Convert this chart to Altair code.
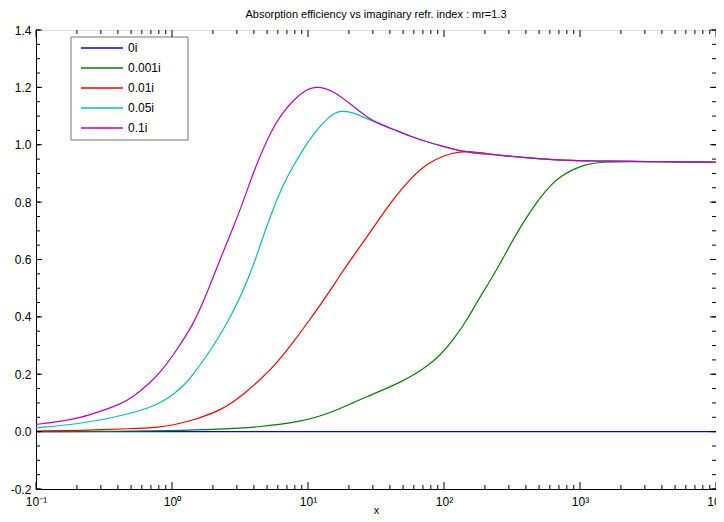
import altair as alt
import pandas as pd

# ---- data ----
series_names = ["0i", "0.001i", "0.01i", "0.05i", "0.1i"]
series_colors = ["#0000ff", "#008000", "#ff0000", "#00bfbf", "#bf00bf"]

x_0i = [0.1, 1, 10, 100, 1000, 10000]
y_0i = [0.0, 0.0, 0.0, 0.0, 0.0, 0.0]

x_0001i = [0.1, 0.296, 1.0, 2.25, 4.44, 8.73, 12.2, 17.2, 21.4, 27.2, 33.8, 47.4, 61.2, 75, 93.5,
           117, 148, 174, 218, 258, 306, 362, 429, 508, 601, 713, 889, 1125, 1403, 2218, 5433, 10000]
y_0001i = [0.0, 0.0005, 0.003, 0.008, 0.016, 0.035, 0.053, 0.08, 0.101, 0.122, 0.141, 0.171, 0.20, 0.228, 0.265,
           0.32, 0.39, 0.45, 0.525, 0.585, 0.65, 0.71, 0.765, 0.815, 0.857, 0.888, 0.915, 0.932, 0.94, 0.942, 0.94, 0.939]

x_001i = [0.1, 0.211, 0.516, 0.817, 1.0, 1.43, 1.75, 2.25, 2.76, 3.44, 4.44, 5.92, 7.76, 10.3, 13.8, 17.2,
          21.4, 27.2, 33.8, 42.2, 56.2, 75, 102, 131, 161, 200, 306, 467, 713, 1403, 2218, 5433, 10000]
y_001i = [0.002, 0.004, 0.010, 0.016, 0.022, 0.04, 0.055, 0.075, 0.10, 0.135, 0.18, 0.24, 0.31, 0.39, 0.475, 0.545,
          0.61, 0.68, 0.745, 0.81, 0.88, 0.935, 0.965, 0.976, 0.977, 0.97, 0.96, 0.952, 0.946, 0.943, 0.942, 0.94, 0.939]

x_005i = [0.1, 0.211, 0.296, 0.516, 0.689, 0.817, 1.0, 1.25, 1.43, 1.75, 2.25, 2.76, 3.33, 3.95, 4.67, 5.53,
          6.55, 7.76, 9.5, 11.5, 13.8, 15.5, 17.8, 22.2, 27.2, 33.8, 42.2, 56.2, 75, 102, 131, 200, 306, 467, 713,
          1403, 2218, 5433, 10000]
y_005i = [0.013, 0.028, 0.040, 0.065, 0.085, 0.10, 0.125, 0.165, 0.20, 0.255, 0.335, 0.41, 0.49, 0.576, 0.68, 0.775,
          0.86, 0.925, 0.995, 1.05, 1.09, 1.11, 1.12, 1.11, 1.09, 1.072, 1.054, 1.03, 1.01, 0.993, 0.978, 0.967, 0.96,
          0.952, 0.946, 0.943, 0.942, 0.94, 0.939]

x_01i = [0.1, 0.150, 0.211, 0.296, 0.415, 0.516, 0.689, 0.817, 1.0, 1.25, 1.43, 1.75, 2.25, 2.76, 3.33, 3.87,
         4.44, 5.26, 6.22, 7.76, 9.5, 11.5, 15.3, 21.4, 27.2, 33.8, 42.2, 56.2, 75, 102, 131, 200, 306, 467,
         713, 1403, 2218, 5433, 10000]
y_01i = [0.025, 0.035, 0.048, 0.07, 0.095, 0.12, 0.17, 0.206, 0.26, 0.33, 0.375, 0.465, 0.60, 0.70, 0.80, 0.89,
         0.96, 1.04, 1.10, 1.155, 1.19, 1.205, 1.19, 1.135, 1.095, 1.072, 1.054, 1.03, 1.01, 0.993, 0.978, 0.967,
         0.96, 0.952, 0.946, 0.943, 0.942, 0.94, 0.939]

x_tick_labels = ["10\u207b\u00b9", "10\u2070", "10\u00b9", "10\u00b2", "10\u00b3", "10\u2074"]
x_major = [0.1, 1, 10, 100, 1000, 10000]
x_minor = [round(m * d, 6) for d in [0.1, 1, 10, 100, 1000] for m in range(2, 10)]
y_labels = [-0.2, 0, 0.2, 0.4, 0.6, 0.8, 1.0, 1.2, 1.4]
y_minor = [round(-0.2 + 0.05 * i, 2) for i in range(33)]

title_text = "Absorption efficiency vs imaginary refr. index : mr=1.3"

# ---- build table ----
rows = []
for name, xs, ys in zip(series_names,
                        [x_0i, x_0001i, x_001i, x_005i, x_01i],
                        [y_0i, y_0001i, y_001i, y_005i, y_01i]):
    for i, (xv, yv) in enumerate(zip(xs, ys)):
        rows.append({"series": name, "x": xv, "y": yv, "i": i})
df = pd.DataFrame(rows)

W, H = 680, 459
FONT = "Liberation Sans"

label_expr = " : ".join(
    f"datum.value < {v * 3} ? '{lab}'" for v, lab in zip(x_major[:-1], x_tick_labels[:-1])
) + f" : '{x_tick_labels[-1]}'"

xscale = alt.Scale(type="log", domain=[0.1, 10000], nice=False)
yscale = alt.Scale(domain=[-0.2, 1.4], nice=False, zero=False)

# legend frame (layout only)
one = pd.DataFrame({"a": [0]})
LX0, LX1, LY0, LY1 = 35, 152, 7, 110
BOX = "#777777"
legend_frame = alt.Chart(one).mark_rect(fill="white", stroke=BOX, strokeWidth=1).encode(
    x=alt.value(LX0), x2=alt.value(LX1), y=alt.value(LY0), y2=alt.value(LY1))

lines = alt.Chart(df).mark_line(strokeWidth=1.2, interpolate="basis", clip=True).encode(
    x=alt.X("x:Q", scale=xscale,
            axis=alt.Axis(values=x_major, labelExpr=label_expr, ticks=False, grid=False,
                          labelFlush=False, labelOverlap=False,
                          domainColor="black", labelColor="black", labelFontSize=12,
                          labelPadding=7, title="x", titleFontSize=11, titleFontWeight="normal",
                          titleColor="black", titleY=24, titleBaseline="alphabetic",
                          labelFont=FONT, titleFont=FONT)),
    y=alt.Y("y:Q", scale=yscale,
            axis=alt.Axis(values=y_labels, ticks=False, grid=False, domainColor="black",
                          labelColor="black", labelFontSize=12, labelPadding=5, title=None,
                          labelFont=FONT, labelFlush=False,
                          labelExpr="replace(datum.label, '\u2212', '-')")),
    color=alt.Color("series:N",
                    scale=alt.Scale(domain=series_names, range=series_colors),
                    sort=series_names,
                    legend=alt.Legend(orient="none", legendX=35, legendY=7, title=None,
                                      symbolType="M-4.2,0H4.2", symbolSize=100, symbolStrokeWidth=1.5,
                                      labelFontSize=12, labelFont=FONT, labelColor="black",
                                      strokeColor="transparent", fillColor="transparent",
                                      padding=5, rowPadding=8, labelOffset=20, symbolOffset=20)),
    order="i:Q",
)

xmaj_df = pd.DataFrame({"x": x_major})
xmin_df = pd.DataFrame({"x": x_minor})
ymaj_df = pd.DataFrame({"y": y_labels})
ymin_df = pd.DataFrame({"y": y_minor})


def xticks(data, length):
    bottom = alt.Chart(data).mark_rule(color="black", strokeWidth=1).encode(
        x=alt.X("x:Q", scale=xscale), y=alt.value(H), y2=alt.value(H - length))
    top = alt.Chart(data).mark_rule(color="black", strokeWidth=1).encode(
        x=alt.X("x:Q", scale=xscale), y=alt.value(0), y2=alt.value(length))
    return [bottom, top]


def yticks(data, length):
    left = alt.Chart(data).mark_rule(color="black", strokeWidth=1).encode(
        y=alt.Y("y:Q", scale=yscale), x=alt.value(0), x2=alt.value(length))
    right = alt.Chart(data).mark_rule(color="black", strokeWidth=1).encode(
        y=alt.Y("y:Q", scale=yscale), x=alt.value(W), x2=alt.value(W - length))
    return [left, right]


layers = [legend_frame, lines] + xticks(xmaj_df, 7) + xticks(xmin_df, 4) + yticks(ymin_df, 4) + yticks(ymaj_df, 6)

chart = alt.layer(*layers).properties(
    width=W, height=H,
    title=alt.TitleParams(title_text, fontSize=11, fontWeight="normal", font=FONT,
                          anchor="middle", offset=4, color="black"),
    padding={"left": 28, "top": 22, "right": 0, "bottom": 25},
    autosize=alt.AutoSizeParams(type="none"),
).configure_view(stroke="black", strokeWidth=1).configure(background="white")

chart.save("out.html", embed_options={"renderer": "svg", "actions": False})
